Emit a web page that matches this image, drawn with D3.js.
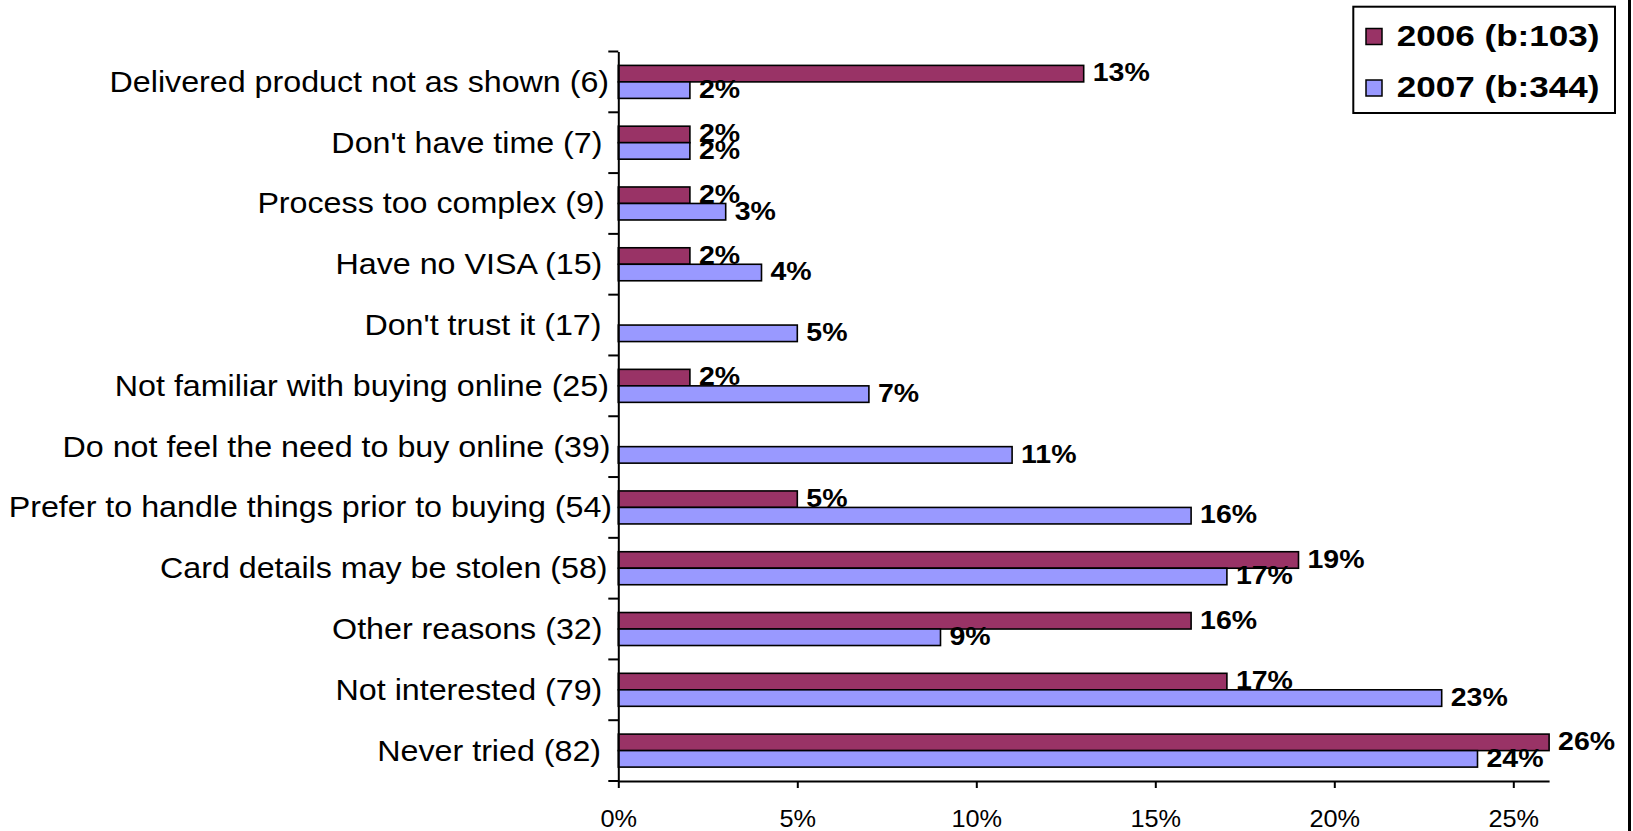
<!DOCTYPE html>
<html>
<head>
<meta charset="utf-8">
<script src="https://cdn.jsdelivr.net/npm/d3@7"></script>
<style>
  body { margin: 0; background: #fff; }
  svg { display: block; font-family: 'Liberation Sans', Arial, sans-serif; }
</style>
</head>
<body>
<svg width="1633" height="831"></svg>
<script>
// The data (top to bottom):
const categories = [
  'Delivered product not as shown (6)',
  "Don't have time (7)",
  'Process too complex (9)',
  'Have no VISA (15)',
  "Don't trust it (17)",
  'Not familiar with buying online (25)',
  'Do not feel the need to buy online (39)',
  'Prefer to handle things prior to buying (54)',
  'Card details may be stolen (58)',
  'Other reasons (32)',
  'Not interested (79)',
  'Never tried (82)',
]
const values2006 = [13, 2, 2, 2, null, 2, null, 5, 19, 16, 17, 26]
const values2007 = [2, 2, 3, 4, 5, 7, 11, 16, 17, 9, 23, 24]
const seriesNames = ['2006 (b:103)', '2007 (b:344)']
const xTicks = [0, 5, 10, 15, 20, 25]

const colors = ['#993366', '#9999FF']
const series = [values2006, values2007]
const svg = d3.select('svg')

// Scales: percent on x-axis, categories on y-axis
let xScale = d3.scaleLinear().domain([0, 26]).range([618.3, 1549.1])
let yScale = d3.scaleBand().domain(categories).range([51.5, 781])
const barH = 16.5

// Bars, 2006 on top and 2007 below in each band
series.forEach((vals, s) => {
  svg.append('g')
    .selectAll('rect')
    .data(categories.map((c, i) => ({ cat: c, v: vals[i] })).filter((d) => d.v != null))
    .enter()
    .append('rect')
    .attr('x', xScale(0))
    .attr('y', (d) => yScale(d.cat) + yScale.bandwidth() / 2 - barH + s * barH)
    .attr('width', (d) => xScale(d.v) - xScale(0))
    .attr('height', barH)
    .attr('fill', colors[s])
    .attr('stroke', '#000')
    .attr('stroke-width', 1.6)
})

// Value labels (drawn after all bars so they sit on top)
series.forEach((vals, s) => {
  svg.append('g')
    .selectAll('text')
    .data(categories.map((c, i) => ({ cat: c, v: vals[i] })).filter((d) => d.v != null))
    .enter()
    .append('text')
    .attr('transform', (d) => {
      let cy = yScale(d.cat) + yScale.bandwidth() / 2 + (s - 0.5) * barH
      return `translate(${xScale(d.v) + 9},${cy + 7.8}) scale(1.14,1)`
    })
    .attr('font-size', 25)
    .attr('font-weight', 'bold')
    .attr('fill', '#000')
    .text((d) => d.v + '%')
})

// Add x-axis:
let xAxis = d3.axisBottom(xScale)
  .tickValues(xTicks)
  .tickFormat((d) => d + '%')
  .tickSizeInner(7)
  .tickSizeOuter(0)
  .tickPadding(22.4)

let xAxisG = svg.append('g').attr('id', 'xAxisG').attr('transform', 'translate(0,781)').call(xAxis)
xAxisG.select('.domain').attr('stroke', '#000').attr('stroke-width', 2)
xAxisG.selectAll('.tick line').attr('stroke', '#000').attr('stroke-width', 2)
xAxisG.selectAll('.tick text')
  .attr('font-size', 23)
  .attr('fill', '#000')
  .attr('font-family', null)
  .attr('transform', 'scale(1.1,1)')

// Add y-axis:
let yAxis = d3.axisLeft(yScale).tickSize(0).tickSizeOuter(0)
let yAxisG = svg.append('g').attr('id', 'yAxisG').attr('transform', `translate(${xScale(0)},0)`).call(yAxis)
yAxisG.select('.domain').attr('stroke', '#000').attr('stroke-width', 2)
yAxisG.selectAll('.tick text')
  .attr('font-size', 29.3)
  .attr('fill', '#000')
  .attr('font-family', null)
  .attr('dy', '0.34em')
  .attr('transform', 'scale(1.1,1)')
  .each(function () {
    let w = this.getComputedTextLength() * 1.1
    let right = 594.6 + 0.029 * w
    d3.select(this).attr('x', (right - xScale(0)) / 1.1)
  })

// Tick marks on the band boundaries
let bounds = categories.map((c) => yScale(c)).concat([yScale.range()[1]])
yAxisG.selectAll('line.bound')
  .data(bounds)
  .enter()
  .append('line')
  .attr('class', 'bound')
  .attr('x1', -10)
  .attr('x2', 0)
  .attr('y1', (d) => d)
  .attr('y2', (d) => d)
  .attr('stroke', '#000')
  .attr('stroke-width', 2)

// Legend:
let legend = svg.append('g')
legend.append('rect')
  .attr('x', 1353.3).attr('y', 6.7)
  .attr('width', 261.7).attr('height', 106.3)
  .attr('fill', '#fff').attr('stroke', '#000').attr('stroke-width', 2)

let items = legend.selectAll('g.item')
  .data(seriesNames)
  .enter()
  .append('g')
  .attr('class', 'item')
  .attr('transform', (d, i) => `translate(1366,${28.5 + i * 51.5})`)
items.append('rect')
  .attr('width', 16).attr('height', 16)
  .attr('fill', (d, i) => colors[i])
  .attr('stroke', '#000').attr('stroke-width', 1.5)
items.append('text')
  .attr('transform', 'translate(30.7,17.2) scale(1.21,1)')
  .attr('font-size', 29)
  .attr('font-weight', 'bold')
  .attr('fill', '#000')
  .text((d) => d)

// Right edge frame line
svg.append('line')
  .attr('x1', 1629.5).attr('x2', 1629.5)
  .attr('y1', 0).attr('y2', 831)
  .attr('stroke', '#000').attr('stroke-width', 3)
</script>
</body>
</html>
